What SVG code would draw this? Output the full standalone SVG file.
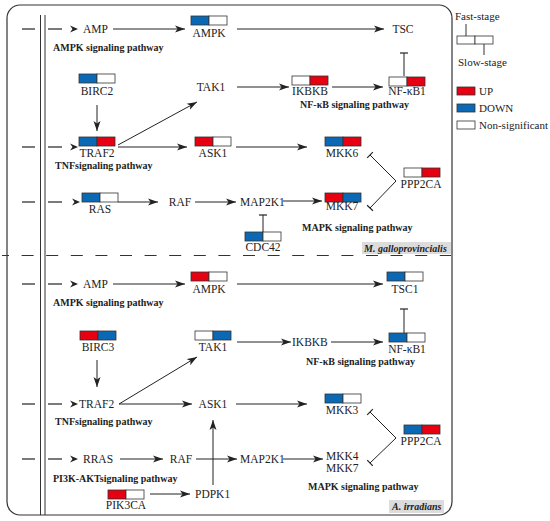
<svg xmlns="http://www.w3.org/2000/svg" xmlns:xlink="http://www.w3.org/1999/xlink" width="550" height="521" viewBox="0 0 550 521">
<style>
text{font-family:"Liberation Serif","Times New Roman",serif;fill:#222}
.lb{font-size:11.5px;text-anchor:middle}
.ls{font-size:11.5px}
.pw{font-size:10px;font-weight:bold}
.sp{font-size:10px;font-weight:bold;font-style:italic}
.lg{font-size:11px}
.c{stroke:#222;stroke-width:1;fill:none}
.ar{marker-end:url(#arr)}
.tb{marker-end:url(#tbar)}
.r{fill:#e60012}.b{fill:#0a68b4}.w{fill:#fff}
.cell{stroke:#333;stroke-width:0.8}
.frame{fill:none;stroke:#333;stroke-width:1.2}
</style>
<defs>
<marker id="arr" markerUnits="userSpaceOnUse" markerWidth="10" markerHeight="8" refX="10" refY="4" orient="auto" viewBox="0 0 10 8">
<path d="M0,0.5 L10,4 L0,7.5 L2.5,4 z" fill="#222"/>
</marker>
<marker id="tbar" markerUnits="userSpaceOnUse" markerWidth="4" markerHeight="10" refX="2" refY="5" orient="auto" viewBox="0 0 4 10">
<path d="M2,1 L2,9" stroke="#222" stroke-width="1.2"/>
</marker>
<path id="ah" d="M-8,-3.5 L0,0 L-8,3.5 L-5.5,0 z" fill="#222"/>
</defs>

<!-- frame -->
<rect class="frame" x="7" y="5" width="445" height="510" rx="13"/>
<line x1="40.5" y1="15" x2="40.5" y2="515" stroke="#333" stroke-width="1"/>
<line x1="45" y1="15" x2="45" y2="515" stroke="#333" stroke-width="1"/>
<line x1="2" y1="255.5" x2="451" y2="255.5" stroke="#333" stroke-width="1.2" stroke-dasharray="12 12.6" stroke-dashoffset="5"/>
<rect x="362" y="242" width="89" height="12" fill="#dcdcdc"/>
<text class="sp" x="364" y="251.5">M. galloprovincialis</text>
<rect x="389" y="500" width="55" height="13" fill="#dcdcdc"/>
<text class="sp" x="392" y="510">A. irradians</text>

<!-- pathway labels -->
<text class="pw" x="53" y="51">AMPK signaling pathway</text>
<text class="pw" x="55" y="169">TNFsignaling pathway</text>
<text class="pw" x="300" y="108">NF-κB signaling pathway</text>
<text class="pw" x="302" y="231">MAPK signaling pathway</text>
<text class="pw" x="53" y="306">AMPK signaling pathway</text>
<text class="pw" x="55" y="425">TNFsignaling pathway</text>
<text class="pw" x="306" y="365">NF-κB signaling pathway</text>
<text class="pw" x="53" y="482">PI3K-AKTsignaling pathway</text>
<text class="pw" x="308" y="490">MAPK signaling pathway</text>

<g id="connectors">
<!-- left entries -->
<g stroke="#222" stroke-width="1.2">
<line x1="22" y1="29" x2="35" y2="29"/><line x1="48" y1="29" x2="62" y2="29"/>
<line x1="22" y1="147" x2="35" y2="147"/><line x1="48" y1="147" x2="62" y2="147"/>
<line x1="22" y1="202" x2="35" y2="202"/><line x1="48" y1="202" x2="62" y2="202"/>
<line x1="22" y1="284" x2="35" y2="284"/><line x1="48" y1="284" x2="62" y2="284"/>
<line x1="22" y1="404" x2="35" y2="404"/><line x1="48" y1="404" x2="62" y2="404"/>
<line x1="22" y1="459" x2="35" y2="459"/><line x1="48" y1="459" x2="62" y2="459"/>
</g>
<use xlink:href="#ah" x="78" y="29"/>
<use xlink:href="#ah" x="78" y="147"/>
<use xlink:href="#ah" x="80" y="202"/>
<use xlink:href="#ah" x="78" y="284"/>
<use xlink:href="#ah" x="78" y="404"/>
<use xlink:href="#ah" x="78" y="459"/>
<!-- top -->
<line class="c ar" x1="113" y1="29" x2="185" y2="29"/>
<line class="c ar" x1="237" y1="29" x2="384" y2="29"/>
<line class="c ar" x1="97" y1="105" x2="97" y2="131"/>
<line class="c ar" x1="118" y1="145" x2="197" y2="102"/>
<line class="c ar" x1="237" y1="87" x2="289" y2="87"/>
<line class="c ar" x1="332" y1="87" x2="383" y2="87"/>
<line class="c tb" x1="404" y1="76" x2="404" y2="53"/>
<line class="c ar" x1="118" y1="147" x2="187" y2="147"/>
<line class="c ar" x1="236" y1="147" x2="307" y2="147"/>
<line class="c ar" x1="118" y1="202" x2="158" y2="202"/>
<line class="c ar" x1="195" y1="202" x2="236" y2="202"/>
<line class="c ar" x1="283" y1="201" x2="322" y2="201"/>
<line class="c tb" x1="263" y1="232" x2="263" y2="215"/>
<line class="c tb" x1="396" y1="181" x2="370" y2="155"/>
<line class="c tb" x1="396" y1="181" x2="370" y2="208"/>
<!-- bottom -->
<line class="c ar" x1="113" y1="284" x2="185" y2="284"/>
<line class="c ar" x1="237" y1="284" x2="383" y2="284"/>
<line class="c tb" x1="404" y1="333" x2="404" y2="309"/>
<line class="c ar" x1="97" y1="360" x2="97" y2="387"/>
<line class="c ar" x1="119" y1="404" x2="197" y2="357"/>
<line class="c ar" x1="237" y1="342" x2="291" y2="342"/>
<line class="c ar" x1="331" y1="342" x2="383" y2="342"/>
<line class="c ar" x1="119" y1="404" x2="192" y2="404"/>
<line class="c ar" x1="236" y1="404" x2="307" y2="404"/>
<line class="c tb" x1="396" y1="438" x2="370" y2="412"/>
<line class="c tb" x1="396" y1="438" x2="370" y2="463"/>
<line class="c ar" x1="120" y1="459" x2="163" y2="459"/>
<line class="c ar" x1="196" y1="459" x2="237" y2="459"/>
<line class="c ar" x1="283" y1="459" x2="323" y2="459"/>
<line class="c ar" x1="150" y1="494" x2="190" y2="494"/>
<line class="c ar" x1="213" y1="485" x2="213" y2="420"/>
</g>

<!-- top section nodes -->
<g id="amp-top"><text class="ls" x="83" y="33">AMP</text></g>
<g id="ampk-top"><rect class="cell b" x="191" y="16" width="18" height="9"/><rect class="cell w" x="209" y="16" width="18" height="9"/><text class="lb" x="209" y="37">AMPK</text></g>
<g id="tsc-top"><text class="lb" x="403" y="33">TSC</text></g>
<g id="birc2"><rect class="cell b" x="79" y="74" width="18" height="9"/><rect class="cell w" x="97" y="74" width="18" height="9"/><text class="lb" x="97" y="95">BIRC2</text></g>
<g id="traf2-top"><rect class="cell b" x="79" y="137" width="18" height="9"/><rect class="cell r" x="97" y="137" width="18" height="9"/><text class="lb" x="97" y="157">TRAF2</text></g>
<g id="tak1-top"><text class="lb" x="211" y="91">TAK1</text></g>
<g id="ikbkb-top"><rect class="cell w" x="292" y="76" width="18" height="9"/><rect class="cell r" x="310" y="76" width="18" height="9"/><text class="lb" x="310" y="95">IKBKB</text></g>
<g id="nfkb1-top"><rect class="cell w" x="389" y="77" width="18" height="9"/><rect class="cell r" x="407" y="77" width="18" height="9"/><text class="lb" x="407" y="95">NF-κB1</text></g>
<g id="ask1-top"><rect class="cell r" x="195" y="137" width="18" height="9"/><rect class="cell w" x="213" y="137" width="18" height="9"/><text class="lb" x="213" y="157">ASK1</text></g>
<g id="mkk6"><rect class="cell b" x="325" y="137" width="18" height="9"/><rect class="cell r" x="343" y="137" width="18" height="9"/><text class="lb" x="342" y="157">MKK6</text></g>
<g id="ppp2ca-top"><rect class="cell w" x="404" y="168" width="18" height="9"/><rect class="cell r" x="422" y="168" width="18" height="9"/><text class="lb" x="421" y="188">PPP2CA</text></g>
<g id="ras"><rect class="cell b" x="82" y="193" width="18" height="9"/><rect class="cell w" x="100" y="193" width="18" height="9"/><text class="lb" x="100" y="213">RAS</text></g>
<g id="raf-top"><text class="lb" x="180" y="206">RAF</text></g>
<g id="map2k1-top"><text class="ls" x="240" y="206">MAP2K1</text></g>
<g id="mkk7-top"><rect class="cell r" x="325" y="193" width="18" height="9"/><rect class="cell b" x="343" y="193" width="18" height="9"/><text class="lb" x="342" y="210">MKK7</text></g>
<g id="cdc42"><rect class="cell b" x="245" y="232" width="18" height="9"/><rect class="cell w" x="263" y="232" width="18" height="9"/><text class="lb" x="263" y="251">CDC42</text></g>

<!-- bottom section nodes -->
<g id="amp-bot"><text class="ls" x="83" y="288">AMP</text></g>
<g id="ampk-bot"><rect class="cell r" x="191" y="272" width="18" height="9"/><rect class="cell w" x="209" y="272" width="18" height="9"/><text class="lb" x="209" y="293">AMPK</text></g>
<g id="tsc1"><rect class="cell b" x="387" y="272" width="18" height="9"/><rect class="cell w" x="405" y="272" width="18" height="9"/><text class="lb" x="405" y="293">TSC1</text></g>
<g id="birc3"><rect class="cell r" x="80" y="331" width="18" height="9"/><rect class="cell b" x="98" y="331" width="18" height="9"/><text class="lb" x="98" y="351">BIRC3</text></g>
<g id="tak1-bot"><rect class="cell w" x="195" y="331" width="18" height="9"/><rect class="cell b" x="213" y="331" width="18" height="9"/><text class="lb" x="213" y="351">TAK1</text></g>
<g id="ikbkb-bot"><text class="ls" x="292" y="346">IKBKB</text></g>
<g id="nfkb1-bot"><rect class="cell b" x="389" y="333" width="18" height="9"/><rect class="cell w" x="407" y="333" width="18" height="9"/><text class="lb" x="407" y="353">NF-κB1</text></g>
<g id="traf2-bot"><text class="ls" x="79" y="408">TRAF2</text></g>
<g id="ask1-bot"><text class="lb" x="213" y="408">ASK1</text></g>
<g id="mkk3"><rect class="cell b" x="325" y="394" width="18" height="9"/><rect class="cell w" x="343" y="394" width="18" height="9"/><text class="lb" x="342" y="414">MKK3</text></g>
<g id="ppp2ca-bot"><rect class="cell b" x="404" y="425" width="18" height="9"/><rect class="cell r" x="422" y="425" width="18" height="9"/><text class="lb" x="421" y="445">PPP2CA</text></g>
<g id="rras"><text class="ls" x="83" y="463">RRAS</text></g>
<g id="raf-bot"><text class="lb" x="181" y="463">RAF</text></g>
<g id="map2k1-bot"><text class="ls" x="240" y="463">MAP2K1</text></g>
<g id="mkk4-mkk7"><text class="ls" x="326" y="460">MKK4</text><text class="ls" x="326" y="472">MKK7</text></g>
<g id="pik3ca"><rect class="cell r" x="108" y="490" width="18" height="9"/><rect class="cell w" x="126" y="490" width="18" height="9"/><text class="lb" x="126" y="509">PIK3CA</text></g>
<g id="pdpk1"><text class="ls" x="195" y="498">PDPK1</text></g>

<!-- legend -->
<g id="legend">
<text class="lg" x="455" y="20">Fast-stage</text>
<line x1="466" y1="24" x2="466" y2="36" stroke="#333" stroke-width="1"/>
<rect class="cell w" x="457" y="36" width="18" height="8"/><rect class="cell w" x="475" y="36" width="18" height="8"/>
<line x1="484" y1="44" x2="484" y2="55" stroke="#333" stroke-width="1"/>
<text class="lg" x="458" y="66">Slow-stage</text>
<rect class="cell r" x="457" y="87" width="18" height="8"/><text class="lg" x="479" y="95">UP</text>
<rect class="cell b" x="457" y="104" width="18" height="8"/><text class="lg" x="479" y="112">DOWN</text>
<rect class="cell w" x="457" y="121" width="18" height="8"/><text class="lg" x="479" y="129">Non-significant</text>
</g>
</svg>
